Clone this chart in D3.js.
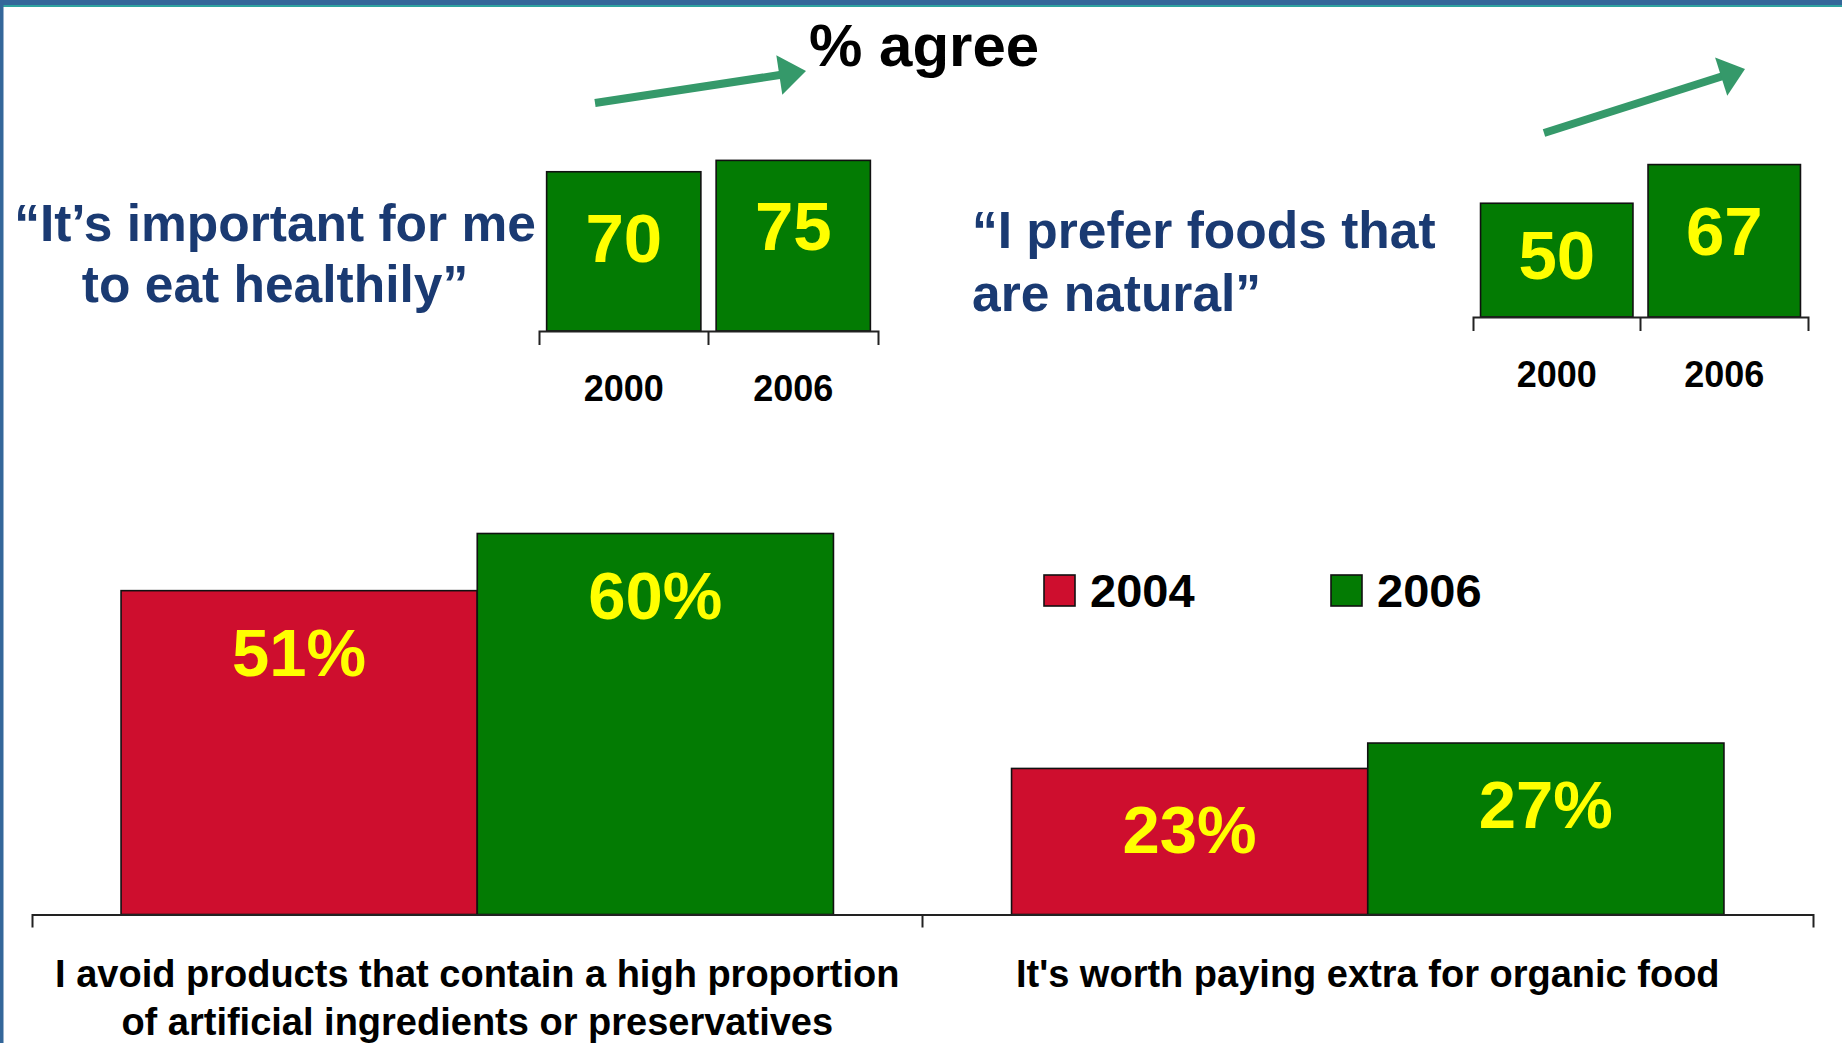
<!DOCTYPE html>
<html>
<head>
<meta charset="utf-8">
<script src="https://cdn.jsdelivr.net/npm/d3@7"></script>
<style>
  html, body { margin: 0; padding: 0; background: #ffffff; }
  svg { display: block; }
  text { font-family: "Liberation Sans", Arial, sans-serif; }
</style>
</head>
<body>
<svg id="chart" width="1842" height="1043"></svg>
<script>
// ---- data ----
const title = "% agree";

// small panel 1
const healthYears = ["2000", "2006"];
const healthValues = [70, 75];
const healthQuote = ["\u201CIt\u2019s important for me", "to eat healthily\u201D"];

// small panel 2
const naturalYears = ["2000", "2006"];
const naturalValues = [50, 67];
const naturalQuote = ["\u201CI prefer foods that", "are natural\u201D"];

// main grouped panel
const statements = [
  ["I avoid products that contain a high proportion", "of artificial ingredients or preservatives"],
  ["It's worth paying extra for organic food"]
];
const seriesYears = ["2004", "2006"];
const values2004 = [51, 23];
const values2006 = [60, 27];

// ---- styling ----
const RED = "#CE0E2E";
const GREEN = "#037B03";
const YELLOW = "#FFFF00";
const NAVY = "#1A3A72";
const ARROW = "#35996A";

const svg = d3.select("#chart");

// frame: top band and left edge
svg.append("rect").attr("x", 0).attr("y", 0).attr("width", 1842).attr("height", 5).attr("fill", "#34679A");
svg.append("rect").attr("x", 0).attr("y", 5).attr("width", 1842).attr("height", 2).attr("fill", "#2FA3A0");
svg.append("rect").attr("x", 0).attr("y", 0).attr("width", 3.5).attr("height", 1043).attr("fill", "#34679A");

// title
svg.append("text")
  .attr("x", 809).attr("y", 66)
  .attr("font-size", 60).attr("font-weight", "bold").attr("fill", "#000")
  .text(title);

// trend arrows
function arrow(x0, y0, x1, y1, headLen, headHalf, shaft) {
  const dx = x1 - x0, dy = y1 - y0, L = Math.hypot(dx, dy);
  const ux = dx / L, uy = dy / L, nx = -uy, ny = ux;
  const bx = x1 - ux * headLen, by = y1 - uy * headLen;
  const g = svg.append("g");
  g.append("line")
    .attr("x1", x0).attr("y1", y0).attr("x2", bx + ux * 2).attr("y2", by + uy * 2)
    .attr("stroke", ARROW).attr("stroke-width", shaft);
  g.append("path")
    .attr("d", d3.line()([[x1, y1], [bx + nx * headHalf, by + ny * headHalf], [bx - nx * headHalf, by - ny * headHalf]]) + "Z")
    .attr("fill", ARROW);
}
arrow(595, 103, 806, 71, 27, 20, 8);
arrow(1544, 133, 1745, 69, 25, 20, 8);

// ---- small bar panels ----
function smallPanel(years, values, x0, x1, base) {
  const x = d3.scaleBand().domain(years).range([x0, x1]).paddingInner(0.09).paddingOuter(0.045);
  const y = d3.scaleLinear().domain([0, 100]).range([base, base - 227.5]);
  const g = svg.append("g");
  const data = years.map((k, i) => ({ k, v: values[i] }));

  g.selectAll("rect").data(data).join("rect")
    .attr("x", d => x(d.k)).attr("width", x.bandwidth())
    .attr("y", d => y(d.v)).attr("height", d => y(0) - y(d.v))
    .attr("fill", GREEN).attr("stroke", "#111").attr("stroke-width", 1.6);

  g.selectAll("text.val").data(data).join("text").attr("class", "val")
    .attr("x", d => x(d.k) + x.bandwidth() / 2)
    .attr("y", d => Math.min(y(d.v) + 90, y(0) - 38))
    .attr("text-anchor", "middle")
    .attr("font-size", 69).attr("font-weight", "bold").attr("fill", YELLOW)
    .text(d => d.v);

  // axis: bracket-shaped domain plus a divider between the two years
  const axis = d3.axisBottom(x).tickSizeInner(0).tickSizeOuter(14).tickPadding(44);
  const ag = g.append("g").attr("transform", `translate(0,${base})`).call(axis);
  ag.select(".domain").attr("stroke", "#222").attr("stroke-width", 2);
  ag.selectAll(".tick text")
    .attr("font-size", 36).attr("font-weight", "bold").attr("fill", "#000")
    .attr("font-family", "Liberation Sans, Arial, sans-serif");
  const step = x.step();
  g.append("line")
    .attr("x1", x(years[1]) - step * 0.045).attr("x2", x(years[1]) - step * 0.045)
    .attr("y1", base).attr("y2", base + 14)
    .attr("stroke", "#222").attr("stroke-width", 2);
}
smallPanel(healthYears, healthValues, 539, 878, 331);
smallPanel(naturalYears, naturalValues, 1473, 1808, 317);

// quotes
svg.append("g").selectAll("text").data(healthQuote).join("text")
  .attr("x", 275).attr("y", (d, i) => 241 + i * 61)
  .attr("text-anchor", "middle")
  .attr("font-size", 51.5).attr("font-weight", "bold").attr("fill", NAVY)
  .text(d => d);

svg.append("g").selectAll("text").data(naturalQuote).join("text")
  .attr("x", 972).attr("y", (d, i) => 248 + i * 63)
  .attr("text-anchor", "start")
  .attr("font-size", 51.5).attr("font-weight", "bold").attr("fill", NAVY)
  .text(d => d);

// ---- main grouped bars ----
const base = 914.5;
const x0 = d3.scaleBand().domain(d3.range(statements.length)).range([32, 1813]).paddingInner(0.2).paddingOuter(0.1);
const x1 = d3.scaleBand().domain(seriesYears).range([0, x0.bandwidth()]).padding(0);
const y = d3.scaleLinear().domain([0, 100]).range([base, base - 635]);
const color = d3.scaleOrdinal().domain(seriesYears).range([RED, GREEN]);

const groups = statements.map((s, i) => ({
  i,
  bars: [{ k: "2004", v: values2004[i] }, { k: "2006", v: values2006[i] }]
}));

const gg = svg.append("g").selectAll("g").data(groups).join("g")
  .attr("transform", d => `translate(${x0(d.i)},0)`);

gg.selectAll("rect").data(d => d.bars).join("rect")
  .attr("x", d => x1(d.k)).attr("width", x1.bandwidth())
  .attr("y", d => y(d.v)).attr("height", d => y(0) - y(d.v))
  .attr("fill", d => color(d.k)).attr("stroke", "#111").attr("stroke-width", 1.6);

gg.selectAll("text").data(d => d.bars).join("text")
  .attr("x", d => x1(d.k) + x1.bandwidth() / 2)
  .attr("y", d => y(d.v) + 85)
  .attr("text-anchor", "middle")
  .attr("font-size", 67).attr("font-weight", "bold").attr("fill", YELLOW)
  .text(d => d.v + "%");

// base axis with end brackets and a divider between the statements
const mainAxis = d3.axisBottom(x0).tickSizeInner(0).tickSizeOuter(13).tickFormat("");
const ma = svg.append("g").attr("transform", `translate(0,${base})`).call(mainAxis);
ma.select(".domain").attr("stroke", "#222").attr("stroke-width", 2);
svg.append("line")
  .attr("x1", x0(1) - x0.step() * 0.1).attr("x2", x0(1) - x0.step() * 0.1)
  .attr("y1", base).attr("y2", base + 13)
  .attr("stroke", "#222").attr("stroke-width", 2);

// statement labels
statements.forEach((lines, i) => {
  svg.append("g").selectAll("text").data(lines).join("text")
    .attr("x", x0(i) + x0.bandwidth() / 2)
    .attr("y", (d, j) => 986.5 + j * 48)
    .attr("text-anchor", "middle")
    .attr("font-size", 38).attr("font-weight", "bold").attr("fill", "#000")
    .text(d => d);
});

// legend
const legend = svg.append("g").selectAll("g").data(seriesYears).join("g")
  .attr("transform", (d, i) => `translate(${1044 + i * 287},575)`);
legend.append("rect").attr("width", 31).attr("height", 31)
  .attr("fill", d => color(d)).attr("stroke", "#111").attr("stroke-width", 1.6);
legend.append("text").attr("x", 46).attr("y", 31.5)
  .attr("font-size", 47).attr("font-weight", "bold").attr("fill", "#000")
  .text(d => d);
</script>
</body>
</html>
